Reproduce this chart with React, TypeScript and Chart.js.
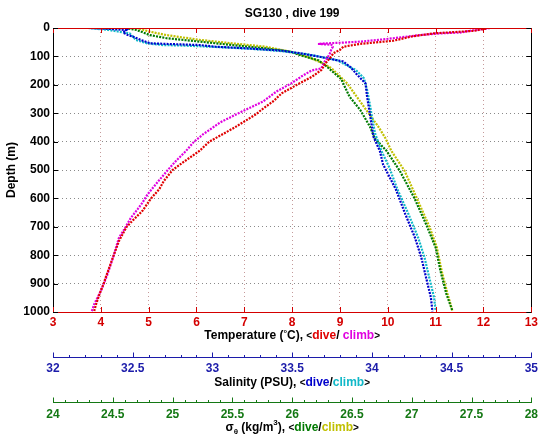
import React, { useEffect, useRef } from "react";
import { Chart, registerables } from "chart.js";

Chart.register(...registerables);

// ---------- data ----------
const tempDiveDepth = [2, 10, 19, 30, 45, 56, 66, 77, 89, 100, 124, 148, 171, 200, 230, 256, 289, 303, 350, 400, 433, 474, 500, 538, 568, 600, 644, 679, 700, 715, 750, 800, 879, 900, 938, 973, 998];
const tempDiveVal = [12.05, 11.8, 10.95, 10.5, 10.11, 9.42, 9.07, 9.0, 8.86, 8.82, 8.7, 8.61, 8.42, 8.1, 7.78, 7.62, 7.35, 7.25, 6.8, 6.27, 6.06, 5.71, 5.5, 5.32, 5.22, 5.05, 4.87, 4.66, 4.54, 4.49, 4.38, 4.27, 4.1, 4.06, 3.97, 3.9, 3.86];

const tempClimbDepth = [0, 4, 9, 16, 19, 25, 36, 42, 48, 52, 54, 56, 59, 66, 75, 89, 101, 118, 142, 150, 170, 195, 224, 259, 300, 332, 374, 400, 433, 468, 500, 550, 585, 615, 638, 668, 709, 738, 800, 867, 926, 973, 998];
const tempClimbVal = [12.14, 12.0, 11.75, 11.51, 11.09, 10.67, 10.11, 9.8, 9.42, 9.0, 8.72, 8.54, 8.82, 8.85, 8.82, 8.79, 8.75, 8.68, 8.61, 8.4, 8.2, 7.98, 7.67, 7.39, 6.88, 6.5, 6.14, 5.95, 5.78, 5.57, 5.4, 5.15, 4.98, 4.87, 4.77, 4.63, 4.49, 4.38, 4.27, 4.14, 4.0, 3.86, 3.81];

const salDiveDepth = [0, 2, 7, 16, 25, 30, 42, 54, 56, 60, 66, 72, 80, 90, 102, 118, 140, 160, 195, 242, 312, 383, 433, 480, 568, 656, 738, 808, 879, 949, 998];
const salDiveVal = [32.23, 32.32, 32.46, 32.44, 32.47, 32.5, 32.55, 32.61, 32.71, 32.92, 33.02, 33.23, 33.44, 33.56, 33.68, 33.82, 33.87, 33.9, 33.96, 33.97, 33.99, 34.01, 34.05, 34.07, 34.15, 34.21, 34.27, 34.31, 34.34, 34.37, 34.38];

const salClimbDepth = [0, 7, 19, 30, 42, 54, 60, 62, 66, 72, 80, 92, 113, 148, 177, 218, 277, 312, 371, 433, 492, 568, 656, 738, 808, 879, 949, 996];
const salClimbVal = [32.22, 32.35, 32.48, 32.5, 32.52, 32.59, 32.69, 32.82, 32.99, 33.2, 33.41, 33.59, 33.78, 33.9, 33.95, 33.97, 33.99, 34.0, 34.02, 34.06, 34.11, 34.16, 34.23, 34.29, 34.33, 34.36, 34.39, 34.4];

const sigDiveDepth = [0, 1, 7, 25, 36, 48, 60, 72, 83, 96, 114, 136, 180, 242, 289, 347, 388, 433, 503, 597, 691, 773, 855, 937, 996];
const sigDiveVal = [24.39, 24.61, 24.7, 24.81, 24.95, 25.23, 25.5, 25.78, 25.98, 26.07, 26.22, 26.29, 26.41, 26.48, 26.57, 26.65, 26.69, 26.79, 26.9, 27.02, 27.12, 27.2, 27.24, 27.29, 27.34];

const sigClimbDepth = [0, 0, 13, 25, 42, 54, 66, 83, 100, 125, 142, 195, 242, 289, 347, 388, 433, 503, 597, 702, 773, 855, 937, 996];
const sigClimbVal = [24.4, 24.7, 24.81, 24.95, 25.23, 25.5, 25.78, 25.98, 26.12, 26.26, 26.33, 26.46, 26.54, 26.62, 26.72, 26.78, 26.83, 26.94, 27.04, 27.15, 27.21, 27.25, 27.3, 27.34];

const depthTicks = [0, 100, 200, 300, 400, 500, 600, 700, 800, 900, 1000];
const tempTicks = [3, 4, 5, 6, 7, 8, 9, 10, 11, 12, 13];

// ---------- styles ----------
const FONT = '"Liberation Sans", Arial, Helvetica, sans-serif';
const AX_RED = "#d40000";
const AX_BLUE = "#1c1caa";
const AX_GREEN = "#147814";
const C_TDIVE = "#e00000";
const C_TCLIMB = "#e000e0";
const C_SDIVE = "#0000cc";
const C_SCLIMB = "#10b8c8";
const C_DDIVE = "#007a00";
const C_DCLIMB = "#c0c000";

type Run = { t: string; c: string; s?: number; dy?: number };

function drawRuns(ctx: CanvasRenderingContext2D, runs: Run[], cx: number, cy: number) {
  let total = 0;
  for (const r of runs) {
    ctx.font = `bold ${r.s ?? 12}px ${FONT}`;
    total += ctx.measureText(r.t).width;
  }
  let x = cx - total / 2;
  ctx.textBaseline = "middle";
  ctx.textAlign = "left";
  for (const r of runs) {
    ctx.font = `bold ${r.s ?? 12}px ${FONT}`;
    ctx.fillStyle = r.c;
    ctx.fillText(r.t, x, cy + (r.dy ?? 0));
    x += ctx.measureText(r.t).width;
  }
}

const fmt = (v: any) => String(+Number(v).toFixed(3));

const decor = {
  id: "decor",
  afterDraw(chart: any) {
    const ctx: CanvasRenderingContext2D = chart.ctx;
    const ca = chart.chartArea;
    const sT = chart.scales.xT;
    const sS = chart.scales.xS;
    const sD = chart.scales.xD;
    const sY = chart.scales.y;
    ctx.save();
    const seg = (x1: number, y1: number, x2: number, y2: number) => {
      ctx.beginPath();
      ctx.moveTo(x1, y1);
      ctx.lineTo(x2, y2);
      ctx.stroke();
    };
    ctx.lineWidth = 1;
    // top border (temperature colour)
    ctx.strokeStyle = AX_RED;
    seg(ca.left, Math.round(ca.top) + 0.5, ca.right, Math.round(ca.top) + 0.5);
    for (const v of tempTicks) {
      const x = Math.round(sT.getPixelForValue(v)) + 0.5;
      seg(x, ca.top, x, ca.top + 5);
      seg(x, ca.bottom, x, ca.bottom - 5);
    }
    ctx.strokeStyle = "#000";
    for (const d of depthTicks) {
      const y = Math.round(sY.getPixelForValue(d)) + 0.5;
      seg(ca.left, y, ca.left + 5, y);
      seg(ca.right, y, ca.right - 5, y);
    }
    // auxiliary axes ticks (pointing up)
    const auxTicks = (sc: any, color: string) => {
      ctx.strokeStyle = color;
      const majors: number[] = sc.ticks.map((t: any) => t.value);
      const y0 = Math.round(sc.top) + 0.5;
      for (let i = 0; i < majors.length; i++) {
        const x = Math.round(sc.getPixelForValue(majors[i])) + 0.5;
        seg(x, y0, x, y0 - 5);
        if (i < majors.length - 1) {
          const step = (majors[i + 1] - majors[i]) / 5;
          for (let k = 1; k < 5; k++) {
            const xm = Math.round(sc.getPixelForValue(majors[i] + k * step)) + 0.5;
            seg(xm, y0, xm, y0 - 2.5);
          }
        }
      }
    };
    auxTicks(sS, AX_BLUE);
    auxTicks(sD, AX_GREEN);

    // titles
    const cx = (ca.left + ca.right) / 2;
    drawRuns(ctx, [{ t: "SG130 , dive 199", c: "#000", s: 12 }], cx, 14);
    drawRuns(
      ctx,
      [
        { t: "Temperature (", c: "#000" },
        { t: "°", c: "#000", s: 9, dy: -2 },
        { t: "C), ", c: "#000" },
        { t: "<", c: "#000", s: 10 },
        { t: "dive", c: C_TDIVE },
        { t: "/ ", c: "#000" },
        { t: "climb", c: C_TCLIMB },
        { t: ">", c: "#000", s: 10 },
      ],
      cx,
      sT.top + 24
    );
    drawRuns(
      ctx,
      [
        { t: "Salinity (PSU), ", c: "#000" },
        { t: "<", c: "#000", s: 10 },
        { t: "dive", c: C_SDIVE },
        { t: "/", c: "#000" },
        { t: "climb", c: C_SCLIMB },
        { t: ">", c: "#000", s: 10 },
      ],
      cx,
      sS.top + 26
    );
    drawRuns(
      ctx,
      [
        { t: "σ", c: "#000" },
        { t: "θ", c: "#000", s: 8, dy: 4 },
        { t: " (kg/m", c: "#000" },
        { t: "3", c: "#000", s: 8, dy: -5 },
        { t: "), ", c: "#000" },
        { t: "<", c: "#000", s: 10 },
        { t: "dive", c: C_DDIVE },
        { t: "/", c: "#000" },
        { t: "climb", c: C_DCLIMB },
        { t: ">", c: "#000", s: 10 },
      ],
      cx,
      sD.top + 26
    );
    ctx.restore();
  },
};

function series(vals: number[], depths: number[], color: string, axis: string) {
  return {
    data: vals.map((v, i) => ({ x: v, y: depths[i] })),
    xAxisID: axis,
    yAxisID: "y",
    showLine: true,
    borderColor: color,
    backgroundColor: color,
    borderWidth: 2.2,
    borderDash: [2, 1.2],
    pointRadius: 0,
    fill: false,
    tension: 0,
  };
}

export default function App() {
  const ref = useRef<HTMLCanvasElement | null>(null);
  useEffect(() => {
    if (!ref.current) return;
    const bold12 = { family: FONT, size: 12, weight: "bold" as const };
    const chart = new Chart(ref.current, {
      type: "scatter",
      data: {
        datasets: [
          series(tempDiveVal, tempDiveDepth, C_TDIVE, "xT"),
          series(tempClimbVal, tempClimbDepth, C_TCLIMB, "xT"),
          series(salDiveVal, salDiveDepth, C_SDIVE, "xS"),
          series(salClimbVal, salClimbDepth, C_SCLIMB, "xS"),
          series(sigDiveVal, sigDiveDepth, C_DDIVE, "xD"),
          series(sigClimbVal, sigClimbDepth, C_DCLIMB, "xD"),
        ] as any,
      },
      options: {
        animation: false,
        responsive: false,
        maintainAspectRatio: false,
        layout: { padding: { top: 28, left: 0, right: 0, bottom: 0 } },
        plugins: { legend: { display: false }, tooltip: { enabled: false }, title: { display: false } },
        scales: {
          y: {
            type: "linear",
            position: "left",
            reverse: true,
            min: 0,
            max: 1000,
            ticks: { stepSize: 100, color: "#000", font: bold12, padding: 3, callback: fmt },
            grid: { color: "#8a8a8a", drawTicks: false, lineWidth: 1 },
            border: { color: "#000", dash: [1, 3] },
            title: { display: true, text: "Depth (m)", color: "#000", font: bold12, padding: { top: 4, bottom: 0 } },
            afterFit: (s: any) => {
              s.width = 53;
            },
          },
          y2: {
            type: "linear",
            position: "right",
            reverse: true,
            min: 0,
            max: 1000,
            ticks: { display: false },
            grid: { drawOnChartArea: false, drawTicks: false },
            border: { color: "#000" },
            afterFit: (s: any) => {
              s.width = 11;
            },
          },
          xT: {
            type: "linear",
            position: "bottom",
            min: 3,
            max: 13,
            ticks: { stepSize: 1, color: AX_RED, font: bold12, padding: 3, maxRotation: 0, autoSkip: false, callback: fmt },
            grid: { color: "#c59a9a", drawTicks: false },
            border: { color: AX_RED, dash: [1, 3] },
            afterFit: (s: any) => {
              s.height = 45;
            },
          },
          xS: {
            type: "linear",
            position: "bottom",
            min: 32,
            max: 35,
            ticks: { stepSize: 0.5, color: AX_BLUE, font: bold12, padding: 4, maxRotation: 0, autoSkip: false, callback: fmt },
            grid: { drawOnChartArea: false, drawTicks: false },
            border: { color: AX_BLUE },
            afterFit: (s: any) => {
              s.height = 45;
            },
          },
          xD: {
            type: "linear",
            position: "bottom",
            min: 24,
            max: 28,
            ticks: { stepSize: 0.5, color: AX_GREEN, font: bold12, padding: 5, maxRotation: 0, autoSkip: false, callback: fmt },
            grid: { drawOnChartArea: false, drawTicks: false },
            border: { color: AX_GREEN },
            afterFit: (s: any) => {
              s.height = 40;
            },
          },
        },
      } as any,
      plugins: [decor],
    });
    return () => chart.destroy();
  }, []);
  return (
    <div style={{ position: "absolute", left: 0, top: 0, width: 543, height: 442, background: "#fff" }}>
      <canvas ref={ref} width={543} height={442} style={{ display: "block" }} />
    </div>
  );
}
